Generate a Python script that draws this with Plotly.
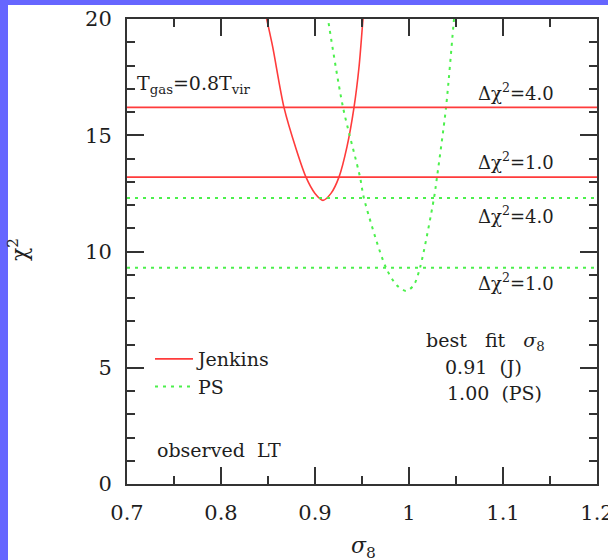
import plotly.graph_objects as go

# Jenkins (red, solid) chi^2 curve
jenkins_sigma = [0.846, 0.8486, 0.855, 0.867, 0.880, 0.8904, 0.900, 0.9085, 0.917, 0.9255, 0.934, 0.9415, 0.947, 0.9511, 0.953]
jenkins_chi2 = [20.5, 20.0, 18.8, 16.2, 14.4, 13.2, 12.5, 12.2, 12.5, 13.2, 14.5, 16.2, 18.0, 20.0, 20.7]
# PS (green, dotted) chi^2 curve
ps_sigma = [0.912, 0.9138, 0.9298, 0.9479, 0.952, 0.9755, 0.987, 0.997, 1.005, 1.0117, 1.0266, 1.0298, 1.0394, 1.0479, 1.049]
ps_chi2 = [20.5, 20.0, 16.2, 13.2, 12.3, 9.3, 8.55, 8.3, 8.55, 9.3, 12.3, 13.2, 16.2, 20.0, 20.4]
# Delta chi^2 levels
jenkins_levels = [13.2, 16.2]
ps_levels = [9.3, 12.3]
x_range = [0.7, 1.2]
y_range = [0, 20]
x_tickvals = [0.7, 0.8, 0.9, 1.0, 1.1, 1.2]
x_ticktext = ["0.7", "0.8", "0.9", "1", "1.1", "1.2"]
y_tickvals = [0, 5, 10, 15, 20]

RED = "#ff3b3b"
GREEN = "#4cf04c"
DOT = "3px,5px"
FONT = "DejaVu Serif"
INK = "#1e1e1e"
NB = "\u00a0"

fig = go.Figure()
fig.add_trace(go.Scatter(x=jenkins_sigma, y=jenkins_chi2, mode="lines", name="Jenkins",
                         legendgroup="j",
                         line=dict(color=RED, width=1.6, shape="spline", smoothing=0.8)))
fig.add_trace(go.Scatter(x=ps_sigma, y=ps_chi2, mode="lines", name="PS", legendgroup="p",
                         line=dict(color=GREEN, width=2, dash=DOT, shape="spline", smoothing=0.8)))
for lv in jenkins_levels:
    fig.add_trace(go.Scatter(x=x_range, y=[lv, lv], mode="lines", showlegend=False,
                             line=dict(color=RED, width=1.6)))
for lv in ps_levels:
    fig.add_trace(go.Scatter(x=x_range, y=[lv, lv], mode="lines", showlegend=False,
                             line=dict(color=GREEN, width=2, dash=DOT)))

W, H = 608, 560
L, R, T, B = 127, 11, 19, 76
pw, ph = W - L - R, H - T - B

def px(xp):
    return (xp - L) / pw

def py(yp):
    return (H - B - yp) / ph

# white panel over blue background (blue strips on left and top)
fig.add_shape(type="rect", xref="paper", yref="paper", x0=px(8), x1=px(W + 5),
              y0=py(5), y1=py(H + 5), fillcolor="white", line=dict(width=0), layer="below")

anns = [
    dict(x=0.7085, y=17.17, text="T<sub>gas</sub>=0.8T<sub>vir</sub>", xanchor="left", size=19),
    dict(x=1.114, y=16.87, text="Δχ<sup>2</sup>=4.0", xanchor="center", size=18),
    dict(x=1.114, y=13.9, text="Δχ<sup>2</sup>=1.0", xanchor="center", size=18),
    dict(x=1.114, y=11.59, text="Δχ<sup>2</sup>=4.0", xanchor="center", size=18),
    dict(x=1.114, y=8.67, text="Δχ<sup>2</sup>=1.0", xanchor="center", size=18),
    dict(x=1.081, y=6.14, text=f"best{NB}{NB}{NB}fit{NB}{NB}{NB}<i>σ</i><sub>8</sub>", xanchor="center", size=19),
    dict(x=1.036, y=5.02, text=f"0.91{NB}{NB}(J)", xanchor="left", size=19),
    dict(x=1.038, y=3.9, text=f"1.00{NB}{NB}(PS)", xanchor="left", size=19),
    dict(x=0.7298, y=1.46, text=f"observed{NB}{NB}LT", xanchor="left", size=19),
]
for a in anns:
    fig.add_annotation(x=a["x"], y=a["y"], text=a["text"], xanchor=a["xanchor"], yanchor="middle",
                       showarrow=False, font=dict(family=FONT, size=a["size"], color=INK),
                       xref="x", yref="y")

fig.add_annotation(x=px(18), y=py(250), xref="paper", yref="paper", text="χ<sup>2</sup>",
                   textangle=-90, xanchor="center", yanchor="middle", showarrow=False,
                   font=dict(family=FONT, size=22, color=INK))
fig.add_annotation(x=px(363), y=py(547), xref="paper", yref="paper", text="<i>σ</i><sub>8</sub>",
                   xanchor="center", yanchor="middle", showarrow=False,
                   font=dict(family=FONT, size=22, color=INK))

axis_common = dict(showgrid=False, zeroline=False, showline=True, linecolor="#333", linewidth=2,
                   mirror="ticks", ticks="inside", tickcolor="#333", tickwidth=1.5, ticklen=17,
                   ticklabeloverflow="allow", automargin=False,
                   tickfont=dict(family=FONT, size=21, color=INK))
fig.update_xaxes(range=x_range, tickvals=x_tickvals, ticktext=x_ticktext, ticklabelstandoff=9,
                 minor=dict(dtick=0.05, ticks="inside", ticklen=8, tickcolor="#333", tickwidth=1.5),
                 **axis_common)
fig.update_yaxes(range=y_range, tickvals=y_tickvals, ticklabelstandoff=9,
                 minor=dict(dtick=1, ticks="inside", ticklen=8, tickcolor="#333", tickwidth=1.5),
                 **axis_common)

fig.update_layout(
    width=W, height=H, margin=dict(l=L, r=R, t=T, b=B, autoexpand=False),
    paper_bgcolor="#6666ff", plot_bgcolor="white",
    legend=dict(x=px(150), y=py(340), xanchor="left", yanchor="top", bgcolor="rgba(0,0,0,0)",
                font=dict(family=FONT, size=19, color=INK), tracegroupgap=0,
                traceorder="grouped", itemwidth=38),
    font=dict(family=FONT, color=INK),
)
fig.write_html("out.html")
